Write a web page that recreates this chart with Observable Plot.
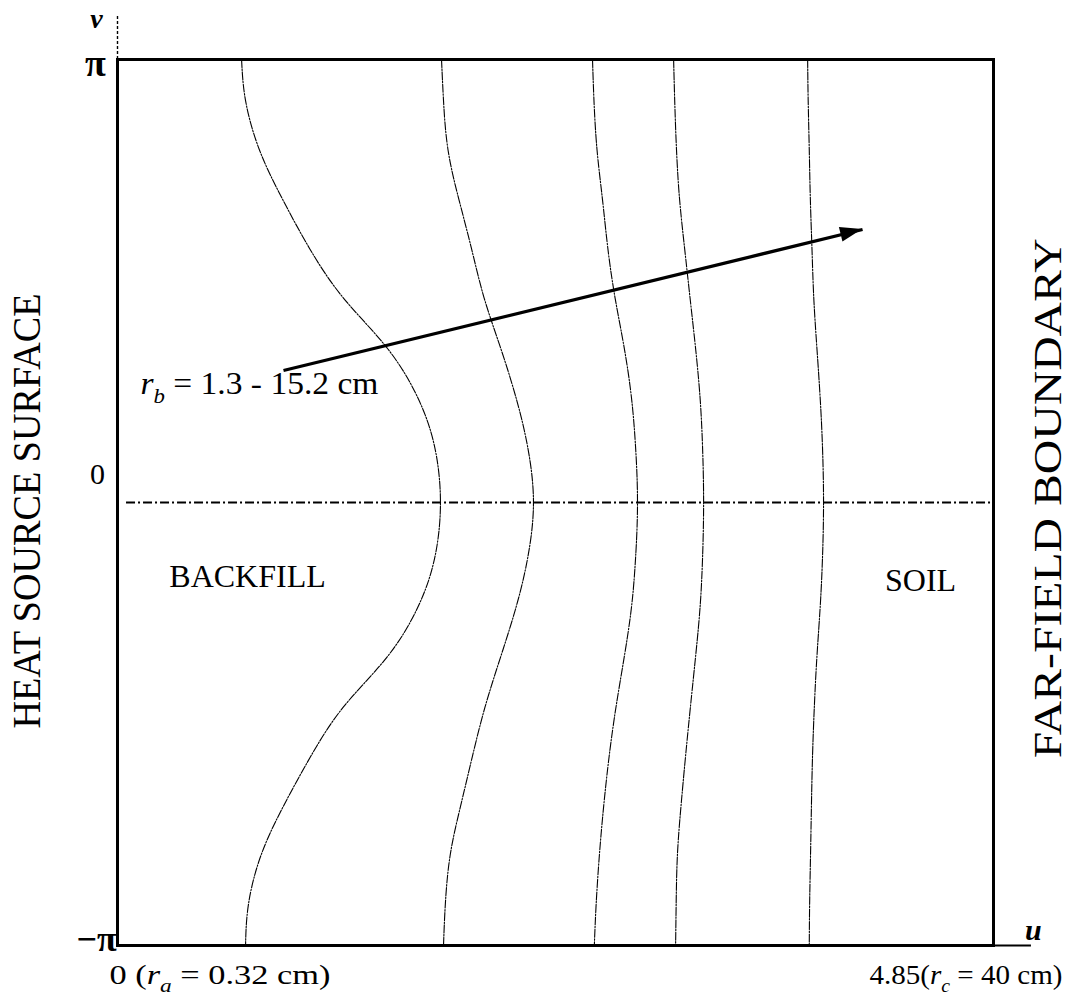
<!DOCTYPE html>
<html>
<head>
<meta charset="utf-8">
<script src="https://cdn.jsdelivr.net/npm/d3@7"></script>
<script src="https://cdn.jsdelivr.net/npm/@observablehq/plot@0.6"></script>
<style>
  html, body { margin: 0; padding: 0; background: #fff; }
  #chart { width: 1071px; height: 1002px; }
</style>
</head>
<body>
<div id="chart"></div>
<script>
// Transformed coordinates: u runs from the heat source (0) to the far field (4.85),
// v runs around the source from -π to π.
const uRange = [0, 4.85];
const vRange = [-Math.PI, Math.PI];

// v positions at which each interface curve is sampled
const vSamples = [Math.PI, 2.85, 2.5, 2.15, 1.8, 1.45, 1.1, 0.75, 0.4, 0,
                  -0.4, -0.75, -1.1, -1.45, -1.8, -2.15, -2.5, -2.85, -Math.PI];

// u position of the backfill/soil interface for increasing backfill radius r_b
const curve1 = [0.687, 0.709, 0.786, 0.914, 1.064, 1.251, 1.490, 1.660, 1.755, 1.788,
                1.755, 1.660, 1.490, 1.251, 1.070, 0.920, 0.795, 0.725, 0.709];
const curve2 = [1.794, 1.805, 1.830, 1.890, 1.960, 2.030, 2.120, 2.205, 2.270, 2.303,
                2.270, 2.205, 2.120, 2.035, 1.965, 1.900, 1.842, 1.815, 1.805];
const curve3 = [2.630, 2.638, 2.655, 2.685, 2.715, 2.755, 2.805, 2.845, 2.868, 2.879,
                2.868, 2.845, 2.805, 2.760, 2.722, 2.692, 2.668, 2.650, 2.640];
const curve4 = [3.079, 3.085, 3.095, 3.112, 3.140, 3.170, 3.200, 3.225, 3.239, 3.245,
                3.239, 3.225, 3.200, 3.172, 3.145, 3.120, 3.100, 3.093, 3.090];
const curve5 = [3.821, 3.824, 3.830, 3.836, 3.845, 3.855, 3.872, 3.890, 3.903, 3.909,
                3.903, 3.890, 3.872, 3.858, 3.848, 3.842, 3.837, 3.832, 3.830];
const curves = [curve1, curve2, curve3, curve4, curve5];

// arrow showing the direction of growing r_b (u, v)
const arrowFrom = [0.919, 0.936];
const arrowTo = [4.125, 1.936];

// tick and annotation texts
const vTickLabels = ["\u2212\u03c0", "0", "\u03c0"];
const uEndLabels = ["0 (r_a = 0.32 cm)", "4.85(r_c = 40 cm)"];
const axisNames = ["u", "v"];
const sideLabels = ["HEAT SOURCE SURFACE", "FAR-FIELD BOUNDARY"];
const regionLabels = ["BACKFILL", "SOIL"];
const rangeLabel = "r_b = 1.3 - 15.2 cm";

const rows = curves.flatMap((c, k) => vSamples.map((v, i) => ({k, v, u: c[i]})));
const arrowRows = [{u1: arrowFrom[0], v1: arrowFrom[1], u2: arrowTo[0], v2: arrowTo[1]}];

const serif = "Liberation Serif, Times New Roman, serif";

const chart = Plot.plot({
  width: 1071,
  height: 1002,
  marginLeft: 117,
  marginRight: 78,
  marginTop: 59,
  marginBottom: 57,
  x: {domain: uRange, axis: null},
  y: {domain: vRange, axis: null},
  style: {fontFamily: serif, background: "#fff", color: "#000"},
  marks: [
    // extensions of the u and v axes beyond the box
    Plot.ruleX([0], {y1: Math.PI, y2: 3.45, stroke: "#000", strokeWidth: 1.4, strokeDasharray: "3,2"}),
    Plot.ruleY([-Math.PI], {x1: 4.85, x2: 5.06, stroke: "#000", strokeWidth: 2}),
    // v = 0 symmetry line
    Plot.ruleY([0], {x1: 0.05, x2: 4.85, stroke: "#000", strokeWidth: 1.8, strokeDasharray: "9,3,2,3"}),
    // interface curves
    Plot.line(rows, {x: "u", y: "v", z: "k", curve: "natural", stroke: "#000", strokeWidth: 1.1, strokeDasharray: "8,1.5,1.5,1.5"}),
    Plot.frame({stroke: "#000", strokeWidth: 3}),
    // arrow shaft (head added below)
    Plot.link(arrowRows, {x1: "u1", y1: "v1", x2: "u2", y2: "v2", stroke: "#000", strokeWidth: 3.2}),
    // v tick labels
    Plot.text([vTickLabels[2]], {x: 0, y: Math.PI, text: d => d, dx: -22, dy: 4, fontSize: 38, fontWeight: "bold"}),
    Plot.text([vTickLabels[1]], {x: 0, y: 0, text: d => d, dx: -20, dy: -28, fontSize: 30}),
    Plot.text([vTickLabels[0]], {x: 0, y: -Math.PI, text: d => d, dx: -21, dy: -6, fontSize: 36, fontWeight: "bold"}),
    // axis names
    Plot.text([axisNames[1]], {x: 0, y: Math.PI, text: d => d, dx: -21, dy: -40, fontSize: 28, fontStyle: "italic", fontWeight: "bold"}),
    Plot.text([axisNames[0]], {x: 5.06, y: -Math.PI, text: d => d, dx: 2, dy: -15, fontSize: 30, fontStyle: "italic", fontWeight: "bold"}),
    // u end labels
    Plot.text([uEndLabels[0]], {x: 0, y: -Math.PI, text: d => d, textAnchor: "start", dx: -8, dy: 30, fontSize: 28}),
    Plot.text([uEndLabels[1]], {x: 4.85, y: -Math.PI, text: d => d, textAnchor: "end", dx: 69, dy: 30, fontSize: 28}),
    // boundary names
    Plot.text([sideLabels[0]], {x: -0.5, y: -0.06, text: d => d, rotate: -90, fontSize: 40}),
    Plot.text([sideLabels[1]], {x: 5.155, y: 0.03, text: d => d, rotate: -90, fontSize: 40}),
    // region names
    Plot.text([regionLabels[0]], {x: 0.72, y: -0.53, text: d => d, fontSize: 32}),
    Plot.text([regionLabels[1]], {x: 4.446, y: -0.553, text: d => d, fontSize: 32}),
    Plot.text([rangeLabel], {x: 0.127, y: 0.84, text: d => d, textAnchor: "start", fontSize: 31})
  ]
});

// Turn "r_x" into an italic r with a subscript letter.
function subscriptify(textEl) {
  const s = textEl.textContent;
  if (!s.includes("_")) return;
  const fs = parseFloat(textEl.closest("g").getAttribute("font-size")) || 28;
  const parts = s.split(/([A-Za-z])_([A-Za-z])/);
  textEl.textContent = "";
  const ns = "http://www.w3.org/2000/svg";
  let shifted = false;
  const add = (str, attrs) => {
    const t = document.createElementNS(ns, "tspan");
    for (const [k, v] of Object.entries(attrs)) t.setAttribute(k, v);
    t.textContent = str;
    textEl.appendChild(t);
  };
  for (let i = 0; i < parts.length; i += 3) {
    if (parts[i]) {
      add(parts[i], shifted ? {dy: -0.28 * fs} : {});
      shifted = false;
    }
    if (i + 2 < parts.length) {
      add(parts[i + 1], {"font-style": "italic"});
      add(parts[i + 2], {"font-style": "italic", "font-size": 0.68 * fs, dy: 0.28 * fs});
      shifted = true;
    }
  }
}

// Fixed text widths for the long labels
const widths = new Map([
  [sideLabels[0], 435],
  [sideLabels[1], 520],
  [uEndLabels[0], 221],
  [uEndLabels[1], 193],
  [rangeLabel, 238]
]);

chart.querySelectorAll("text").forEach(t => {
  const s = t.textContent;
  if (widths.has(s)) {
    t.setAttribute("textLength", widths.get(s));
    t.setAttribute("lengthAdjust", "spacingAndGlyphs");
  }
  subscriptify(t);
});

// Filled arrow head at the end of the shaft, placed through the plot's scales
{
  const sx = chart.scale("x"), sy = chart.scale("y");
  const x1 = sx.apply(arrowFrom[0]), y1 = sy.apply(arrowFrom[1]);
  const x2 = sx.apply(arrowTo[0]), y2 = sy.apply(arrowTo[1]);
  const a = Math.atan2(y2 - y1, x2 - x1);
  const len = 22, half = 7.5;
  const bx = x2 - len * Math.cos(a), by = y2 - len * Math.sin(a);
  const pts = [
    [x2, y2],
    [bx + half * Math.sin(a), by - half * Math.cos(a)],
    [bx - half * Math.sin(a), by + half * Math.cos(a)]
  ];
  d3.select(chart).append("polygon")
    .attr("points", pts.map(p => p.join(",")).join(" "))
    .attr("fill", "#000");
}

document.getElementById("chart").appendChild(chart);
</script>
</body>
</html>
